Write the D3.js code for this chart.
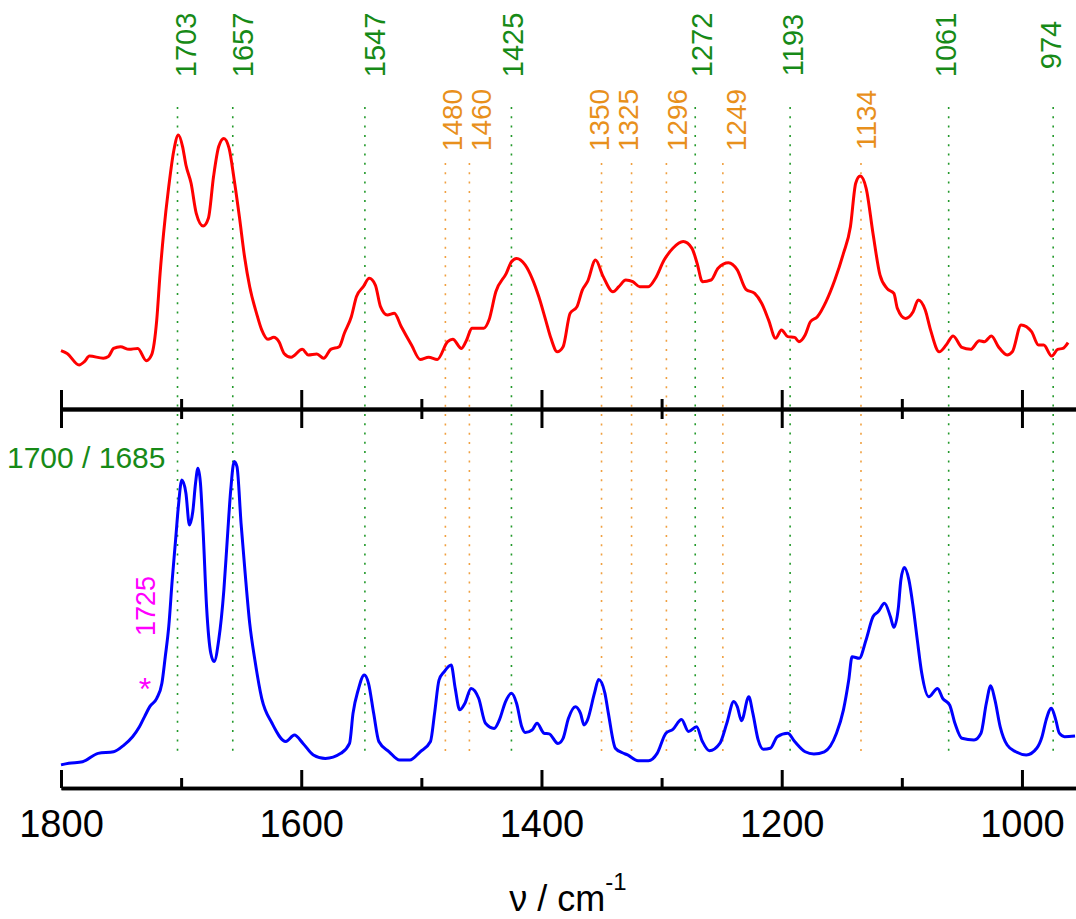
<!DOCTYPE html>
<html>
<head>
<meta charset="utf-8">
<script src="https://cdn.jsdelivr.net/npm/d3@7"></script>
<style>
  html, body { margin: 0; padding: 0; background: #fff; }
  svg { display: block; font-family: Arial, "Liberation Sans", sans-serif; }
</style>
</head>
<body>
<svg id="viz"></svg>
<script>
var width = 1076;
var height = 919;

// ---- data (wavenumber in cm-1, intensity in arbitrary units) ----
var majorTicks = [1800, 1600, 1400, 1200, 1000];
var minorTicks = [1700, 1500, 1300, 1100];

var greenBands = [1703, 1657, 1547, 1425, 1272, 1193, 1061, 974];
var orangeBands = [1480, 1460, 1350, 1325, 1296, 1249, 1134];

var redSpectrum = [
  [1800, 8.1], [1794.9, 6.9], [1784.9, 2.1], [1780.5, 3.5], [1776.3, 5.8], [1764.8, 4.9],
  [1760.5, 5.6], [1756.2, 9.0], [1750.5, 9.7], [1743.3, 8.6], [1736.1, 9.0], [1728.9, 3.9],
  [1724.6, 6.3], [1720.3, 20.8], [1717.5, 40.3], [1714.6, 56.9], [1710.3, 76.4], [1706.0, 91.7],
  [1702.3, 97.9], [1698.8, 93.1], [1696.0, 85.4], [1691.7, 77.8], [1687.4, 65.3], [1681.6, 60.0],
  [1677.3, 63.2], [1673.0, 80.6], [1668.7, 93.1], [1664.4, 96.5], [1660.1, 92.4], [1655.8, 79.2],
  [1651.5, 63.9], [1647.2, 47.2], [1642.9, 34.7], [1637.2, 23.6], [1632.9, 16.7], [1627.7, 12.8],
  [1622.9, 13.6], [1618.6, 11.8], [1614.3, 6.9], [1608.5, 5.3], [1599.1, 8.6], [1594.2, 6.3],
  [1587.0, 6.7], [1581.3, 4.9], [1575.5, 8.6], [1568.4, 9.7], [1564.1, 15.3], [1558.3, 22.2],
  [1554.0, 30.6], [1548.3, 34.7], [1543.4, 38.2], [1538.3, 35.4], [1534.0, 26.4], [1528.3, 22.9],
  [1522.5, 23.6], [1516.8, 18.1], [1508.2, 10.4], [1501.0, 4.4], [1493.9, 5.3], [1486.7, 4.4],
  [1478.1, 11.8], [1473.8, 12.8], [1466.6, 9.0], [1462.3, 12.5], [1458.0, 17.4], [1448.0, 17.4],
  [1443.7, 20.8], [1438.0, 32.6], [1429.3, 40.3], [1425.0, 45.1], [1420.7, 46.5], [1413.6, 43.8],
  [1407.8, 38.2], [1402.2, 30.5], [1396.5, 20.8], [1392.1, 13.2], [1386.9, 7.6], [1382.0, 9.7],
  [1376.2, 23.6], [1370.4, 26.4], [1366.0, 33.3], [1361.7, 36.8], [1355.0, 45.8], [1348.6, 38.9],
  [1340.5, 32.6], [1335.6, 34.7], [1329.8, 37.5], [1324.0, 36.8], [1318.2, 34.7], [1311.0, 34.7],
  [1305.1, 38.2], [1297.9, 45.8], [1290.6, 50.7], [1282.0, 53.5], [1274.7, 50.7], [1270.4, 44.4],
  [1266.0, 36.8], [1258.8, 37.5], [1253.0, 42.4], [1244.3, 44.7], [1237.0, 41.7], [1229.8, 33.6],
  [1222.5, 31.9], [1216.7, 27.8], [1210.9, 20.8], [1205.1, 13.2], [1200.2, 16.7], [1195.0, 13.9],
  [1189.2, 13.6], [1185.7, 11.8], [1180.5, 14.6], [1176.1, 20.1], [1170.3, 22.2], [1163.1, 28.5],
  [1155.8, 37.5], [1148.6, 48.6], [1142.8, 59.7], [1138.4, 77.8], [1134.7, 80.8], [1129.7, 75.7],
  [1124.0, 56.9], [1118.2, 39.6], [1112.4, 34.0], [1106.6, 31.9], [1103.7, 25.7], [1097.0, 21.5],
  [1090.6, 24.3], [1086.3, 29.2], [1080.5, 25.0], [1076.1, 16.7], [1068.9, 7.6], [1063.1, 10.4],
  [1057.3, 14.2], [1050.0, 9.4], [1042.8, 8.6], [1035.5, 12.2], [1031.2, 11.8], [1025.4, 14.2],
  [1019.6, 9.7], [1012.3, 6.3], [1008.0, 7.6], [1000.7, 18.8], [992.0, 16.0], [986.2, 10.4],
  [981.9, 10.4], [975.2, 5.8], [970.3, 8.6], [965.9, 9.0], [961.6, 11.4]
];

var blueSpectrum = [
  [1800, 1.6], [1793.5, 2.1], [1782.0, 2.6], [1769.1, 5.2], [1756.2, 5.7], [1747.6, 7.8],
  [1740.4, 10.4], [1734.7, 13.5], [1730.4, 16.7], [1726.1, 19.8], [1720.3, 22.4], [1716.0, 27.1],
  [1713.2, 35.4], [1710.3, 44.8], [1707.4, 59.4], [1704.6, 71.9], [1702.3, 82.3], [1699.4, 90.6],
  [1696.0, 86.5], [1693.1, 76.6], [1690.3, 80.7], [1688.0, 89.6], [1686.0, 94.3], [1683.9, 89.6],
  [1681.6, 74.0], [1678.8, 51.0], [1675.3, 36.5], [1672.5, 33.9], [1668.7, 40.6], [1664.4, 56.3],
  [1661.6, 71.9], [1658.7, 87.5], [1655.8, 96.4], [1653.5, 94.8], [1650.1, 77.1], [1646.7, 61.5],
  [1642.9, 45.8], [1638.6, 34.4], [1632.9, 22.4], [1624.3, 14.6], [1612.8, 8.9], [1605.7, 10.9],
  [1598.5, 8.3], [1589.9, 4.7], [1579.9, 3.6], [1567.0, 5.2], [1559.8, 8.3], [1556.9, 17.7],
  [1552.6, 25.0], [1547.5, 29.7], [1544.0, 27.1], [1539.7, 17.7], [1535.4, 8.9], [1526.8, 5.7],
  [1518.2, 3.1], [1509.6, 3.1], [1501.0, 5.7], [1492.4, 8.9], [1489.0, 17.7], [1485.3, 28.1],
  [1481.0, 30.7], [1475.2, 32.8], [1471.8, 25.5], [1468.1, 18.8], [1463.8, 20.8], [1458.6, 25.5],
  [1452.3, 22.4], [1446.6, 14.6], [1439.4, 13.0], [1435.1, 15.6], [1429.9, 21.4], [1425.0, 24.0],
  [1420.7, 20.8], [1416.4, 13.5], [1413.6, 11.7], [1407.8, 12.5], [1403.7, 14.6], [1397.9, 11.5],
  [1393.6, 11.3], [1386.3, 8.3], [1382.0, 9.9], [1377.6, 16.1], [1371.8, 19.8], [1367.5, 17.7],
  [1364.6, 14.1], [1361.7, 15.6], [1355.9, 24.0], [1352.4, 28.3], [1347.2, 24.0], [1344.3, 17.7],
  [1338.5, 6.8], [1332.7, 5.4], [1328.3, 4.7], [1319.6, 2.9], [1310.9, 2.9], [1303.7, 5.2],
  [1296.4, 11.5], [1290.6, 12.7], [1283.4, 15.8], [1277.6, 12.0], [1270.9, 13.5], [1266.0, 8.9],
  [1260.2, 6.0], [1251.5, 8.3], [1245.7, 14.6], [1239.9, 21.4], [1237.0, 19.8], [1233.5, 15.4],
  [1227.4, 22.9], [1224.0, 17.7], [1219.6, 9.4], [1215.3, 6.5], [1209.5, 6.8], [1203.7, 10.4],
  [1195.0, 11.5], [1189.2, 8.9], [1180.5, 5.7], [1173.2, 5.0], [1164.5, 5.7], [1154.4, 11.5],
  [1148.6, 18.8], [1144.2, 28.1], [1141.4, 35.4], [1135.5, 34.9], [1129.8, 40.6], [1124.0, 47.9],
  [1119.6, 49.5], [1114.4, 52.1], [1109.5, 47.9], [1106.6, 44.6], [1102.8, 51.0], [1100.8, 59.4],
  [1097.9, 63.3], [1094.1, 59.4], [1090.6, 51.0], [1087.1, 40.6], [1083.4, 30.2], [1077.6, 22.9],
  [1070.3, 25.5], [1066.0, 22.4], [1060.2, 20.3], [1055.8, 14.6], [1050.0, 9.9], [1039.9, 9.4],
  [1034.1, 11.5], [1029.7, 20.8], [1026.0, 26.3], [1022.5, 21.9], [1018.1, 13.5], [1012.3, 7.8],
  [1005.1, 5.7], [996.4, 4.7], [987.7, 6.8], [983.3, 10.4], [979.9, 15.6], [975.5, 19.3],
  [971.8, 15.6], [968.9, 11.5], [964.5, 10.4], [955.8, 10.6]
];

// ---- layout ----
var green = "#178a17";
var orange = "#e8901c";
var midAxisY = 409;
var bottomAxisY = 788;
var lineBottom = 751;
// hand placement of the rotated band labels (px, relative to the band line)
var labelShift = {
  1703: 8, 1657: 10, 1547: 10, 1425: 1, 1272: 6, 1193: 2, 1061: -3, 974: -3,
  1480: 7, 1460: 12, 1350: -3, 1325: -4, 1296: 11, 1249: 13, 1134: 5
};

var x = d3.scaleLinear().domain([1800, 955]).range([61, 1076]);
var yRed = d3.scaleLinear().domain([0, 100]).range([370, 130]);
var yBlue = d3.scaleLinear().domain([0, 100]).range([770, 450]);

var svg = d3.select("#viz")
  .attr("width", width)
  .attr("height", height);

// ====================================================
// dotted band markers
// ====================================================
var bands = greenBands.map(d => ({ nu: d, color: green, top: 107, labelY: 45, size: 29 }))
  .concat(orangeBands.map(d => ({ nu: d, color: orange, top: 163, labelY: 120, size: 28 })));

svg.append("g")
  .selectAll("line")
  .data(bands)
  .join("line")
  .attr("x1", d => x(d.nu))
  .attr("x2", d => x(d.nu))
  .attr("y1", d => d.top)
  .attr("y2", lineBottom)
  .attr("stroke", d => d.color === green ? "#22992a" : "#f0a040")
  .attr("stroke-width", 1.6)
  .attr("stroke-dasharray", "2,7.3");

svg.append("g")
  .selectAll("text")
  .data(bands)
  .join("text")
  .attr("transform", d => `translate(${x(d.nu) + labelShift[d.nu]},${d.labelY}) rotate(-90)`)
  .attr("text-anchor", "middle")
  .attr("dy", "0.36em")
  .style("font-size", d => d.size + "px")
  .style("fill", d => d.color)
  .text(d => d.nu);

// ====================================================
// spectra
// ====================================================
var redLine = d3.line()
  .x(d => x(d[0]))
  .y(d => yRed(d[1]))
  .curve(d3.curveMonotoneX);

var blueLine = d3.line()
  .x(d => x(d[0]))
  .y(d => yBlue(d[1]))
  .curve(d3.curveMonotoneX);

svg.append("path")
  .datum(redSpectrum)
  .attr("fill", "none")
  .attr("stroke", "#ff0000")
  .attr("stroke-width", 3)
  .attr("stroke-linejoin", "round")
  .attr("d", redLine);

svg.append("path")
  .datum(blueSpectrum)
  .attr("fill", "none")
  .attr("stroke", "#0000ff")
  .attr("stroke-width", 3)
  .attr("stroke-linejoin", "round")
  .attr("d", blueLine);

// ====================================================
// axes
// ====================================================
function styleAxis(g) {
  g.select(".domain").attr("stroke", "#000").attr("stroke-width", 3.5);
  g.selectAll(".tick line").attr("stroke", "#000").attr("stroke-width", 3);
}

// middle axis: ticks on both sides, no labels
[d3.axisBottom, d3.axisTop].forEach(function (ax) {
  svg.append("g")
    .attr("transform", `translate(0,${midAxisY})`)
    .call(ax(x).tickValues(majorTicks).tickSize(19).tickSizeOuter(0).tickFormat(""))
    .call(styleAxis);
  svg.append("g")
    .attr("transform", `translate(0,${midAxisY})`)
    .call(ax(x).tickValues(minorTicks).tickSize(10).tickSizeOuter(0).tickFormat(""))
    .call(styleAxis);
});

// bottom axis: ticks pointing up, labels below
svg.append("g")
  .attr("transform", `translate(0,${bottomAxisY})`)
  .call(d3.axisBottom(x).tickValues(minorTicks).tickSize(-10).tickSizeOuter(0).tickFormat(""))
  .call(styleAxis);

var bottomAxis = svg.append("g")
  .attr("transform", `translate(0,${bottomAxisY})`)
  .call(d3.axisBottom(x).tickValues(majorTicks).tickSize(-18).tickSizeOuter(0).tickPadding(22).tickFormat(d3.format("d")))
  .call(styleAxis);

bottomAxis.selectAll("text")
  .attr("fill", "#000")
  .style("font-size", "38px")
  .style("font-family", "Arial, 'Liberation Sans', sans-serif");

var title = svg.append("text")
  .attr("x", 568)
  .attr("y", 911)
  .attr("text-anchor", "middle")
  .style("font-size", "36px")
  .style("fill", "#000");
title.append("tspan").text("ν / cm");
title.append("tspan")
  .attr("dy", -21)
  .style("font-size", "24px")
  .text("-1");

// ====================================================
// annotations
// ====================================================
svg.append("text")
  .attr("x", 7)
  .attr("y", 468)
  .style("font-size", "30px")
  .style("fill", green)
  .text("1700 / 1685");

svg.append("text")
  .attr("transform", "translate(145,606) rotate(-90)")
  .attr("text-anchor", "middle")
  .attr("dy", "0.36em")
  .style("font-size", "27px")
  .style("fill", "#ff00ff")
  .text("1725");

svg.append("text")
  .attr("x", 145)
  .attr("y", 700)
  .attr("text-anchor", "middle")
  .style("font-size", "32px")
  .style("fill", "#ff00ff")
  .text("*");
</script>
</body>
</html>
